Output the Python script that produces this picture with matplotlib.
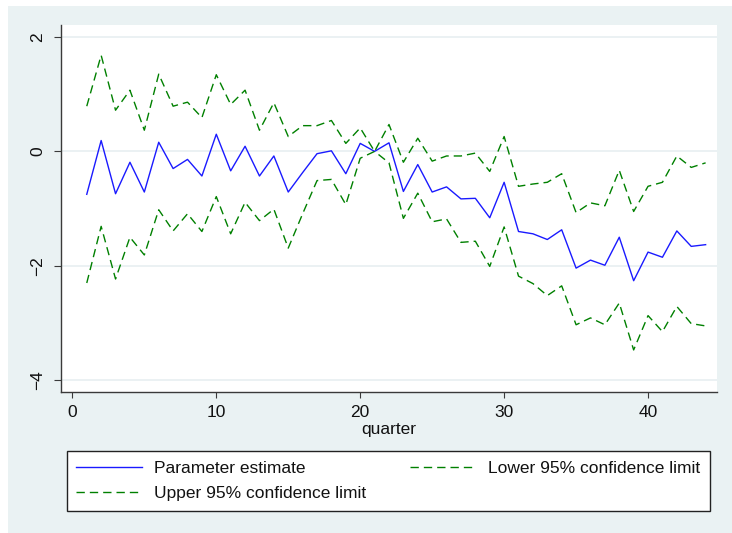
import matplotlib.pyplot as plt
from matplotlib.patches import Rectangle

plt.rcParams['font.family'] = ['Liberation Sans', 'DejaVu Sans']

quarter = list(range(1, 45))

# parameter estimate (quarter 21 is the reference period)
estimate = [-0.75, 0.19, -0.74, -0.19, -0.71, 0.16, -0.30, -0.14, -0.43, 0.30,
            -0.34, 0.09, -0.43, -0.08, -0.71, -0.37, -0.04, 0.01, -0.39, 0.14,
            0.0, 0.15, -0.70, -0.23, -0.71, -0.62, -0.83, -0.82, -1.16, -0.54,
            -1.40, -1.44, -1.54, -1.37, -2.04, -1.90, -1.99, -1.50, -2.26, -1.76,
            -1.85, -1.39, -1.66, -1.63]

upper = [0.79, 1.68, 0.72, 1.07, 0.37, 1.35, 0.79, 0.86, 0.59, 1.34,
         0.82, 1.07, 0.37, 0.85, 0.26, 0.45, 0.45, 0.54, 0.14, 0.41,
         0.0, 0.47, -0.19, 0.23, -0.17, -0.08, -0.08, -0.03, -0.35, 0.26,
         -0.61, -0.57, -0.54, -0.39, -1.07, -0.90, -0.95, -0.33, -1.05, -0.61,
         -0.54, -0.08, -0.28, -0.20]

lower = [-2.30, -1.31, -2.23, -1.50, -1.81, -1.02, -1.39, -1.09, -1.40, -0.79,
         -1.44, -0.89, -1.21, -1.01, -1.69, -1.09, -0.51, -0.49, -0.93, -0.12,
         0.0, -0.20, -1.17, -0.73, -1.23, -1.18, -1.59, -1.57, -2.01, -1.32,
         -2.18, -2.31, -2.52, -2.35, -3.03, -2.91, -3.03, -2.65, -3.47, -2.87,
         -3.15, -2.71, -3.01, -3.05]

fig = plt.figure(figsize=(7.32, 5.33), dpi=100, facecolor='white')
# stata-style background panel, behind everything
fig.patches.append(Rectangle((8 / 732, 0), 1 - 8 / 732, 1 - 6 / 533,
                             transform=fig.transFigure, facecolor='#eaf2f3',
                             edgecolor='none', zorder=-10))

ax = fig.add_axes([61 / 732, 1 - 392 / 533, (716.7 - 61) / 732, (392 - 25) / 533])
ax.set_facecolor('white')

est_line, = ax.plot(quarter, estimate, color='#1a1aff', lw=1.0,
                    label='Parameter estimate')
low_line, = ax.plot(quarter, lower, color='#008000', lw=1.0,
                    dashes=(6, 3.6), label='Lower 95% confidence limit')
up_line, = ax.plot(quarter, upper, color='#008000', lw=1.0,
                   dashes=(6, 3.6), label='Upper 95% confidence limit')

ax.set_xlim(-0.79, 44.77)
ax.set_ylim(-4.205, 2.209)
ax.set_xticks([0, 10, 20, 30, 40])
ax.set_yticks([-4, -2, 0, 2])
ax.grid(axis='y', color='#e8eff1', lw=1.2)
ax.set_axisbelow(True)

for side in ['top', 'right']:
    ax.spines[side].set_visible(False)
for side in ['left', 'bottom']:
    ax.spines[side].set_color('#3a3a3a')
    ax.spines[side].set_linewidth(1.0)

ax.tick_params(axis='y', length=5, color='#3a3a3a', pad=6.5, labelsize=12.5,
               labelcolor='#111111')
ax.tick_params(axis='x', length=4.5, color='#3a3a3a', pad=5, labelsize=12.5,
               labelcolor='#111111')
for lab in ax.get_yticklabels():
    lab.set_rotation(90)
    lab.set_va('center')

ax.set_xlabel('quarter', fontsize=12.5, color='#111111', labelpad=1)

leg_x0 = 66.7 / 732
leg_w = (710 - 66.7) / 732
leg = fig.legend([est_line, up_line, low_line],
                 ['Parameter estimate', 'Upper 95% confidence limit',
                  'Lower 95% confidence limit'],
                 ncol=2, loc='upper left', mode='expand',
                 bbox_to_anchor=(leg_x0, 0, leg_w, 1 - 451 / 533),
                 fontsize=12.5, frameon=True, fancybox=False,
                 handlelength=3.8, handletextpad=0.7, columnspacing=1.5,
                 labelspacing=0.6, borderpad=0.55, borderaxespad=0,
                 framealpha=1, facecolor='white')
leg.get_frame().set_edgecolor('#222222')
leg.get_frame().set_linewidth(1.0)
for t in leg.get_texts():
    t.set_color('#111111')

fig.savefig('out.png', dpi=100, facecolor=fig.get_facecolor())
